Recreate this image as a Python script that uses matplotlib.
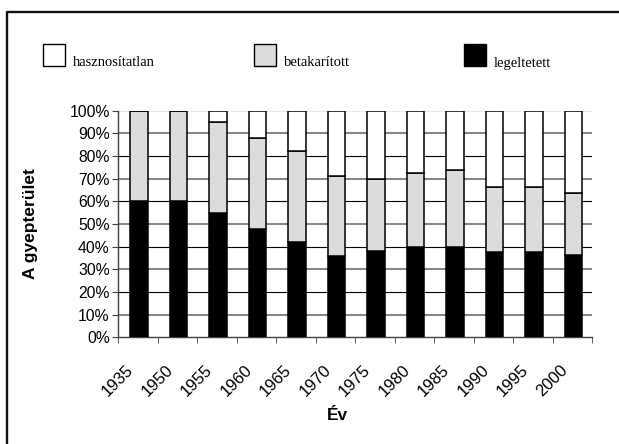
import numpy as np
import matplotlib
matplotlib.use("Agg")
import matplotlib.pyplot as plt
import matplotlib.transforms as mtransforms
from matplotlib.patches import Rectangle
from matplotlib.lines import Line2D
from matplotlib.ticker import FixedLocator

### Data (share of grassland, %)
years = ['1935', '1950', '1955', '1960', '1965', '1970',
         '1975', '1980', '1985', '1990', '1995', '2000']
legeltetett = [60, 60, 55, 48, 42, 36, 38, 40, 40, 37.5, 37.5, 36.5]
betakaritott = [40, 40, 40, 40, 40, 35, 32, 32.5, 34, 29, 29, 27]
hasznositatlan = [0, 0, 5, 12, 18, 29, 30, 27.5, 26, 33.5, 33.5, 36.5]

series = ['hasznosítatlan', 'betakarított', 'legeltetett']
colors = {'hasznosítatlan': 'white', 'betakarított': '#dcdcdc', 'legeltetett': 'black'}

### Figure
W, H = 619, 444
fig = plt.figure(figsize=(W / 100, H / 100), dpi=100)
ax = fig.add_axes([118 / W, 1 - 337.3 / H, (592 - 118) / W, (337.3 - 110.7) / H])

x = np.arange(len(years))
bw = 0.45
bottom = np.zeros(len(years))
for name, vals in [('legeltetett', legeltetett), ('betakarított', betakaritott),
                   ('hasznosítatlan', hasznositatlan)]:
    ax.bar(x + 0.03, vals, bw, bottom=bottom, color=colors[name],
           edgecolor='black', linewidth=1.1, zorder=3)
    bottom += np.array(vals)

# gridlines, alternating grey / black
for i, g in enumerate(range(10, 101, 10)):
    if g == 100:
        c, lw = '#e8e8e8', 0.8
    elif i % 2 == 0:
        c, lw = '#707070', 1.2
    else:
        c, lw = 'black', 0.8
    ax.axhline(g, color=c, lw=lw, zorder=1)

ax.set_xlim(-0.5, len(years) - 0.5)
ax.set_ylim(0, 100)
ax.set_yticks(range(0, 101, 10))
ax.set_yticklabels(['%d%%' % v for v in range(0, 101, 10)],
                   fontsize=11.3, family='Liberation Sans')
ax.set_xticks(x)
ax.set_xticklabels(years, rotation=45, ha='right', va='top', rotation_mode='anchor',
                   fontsize=12, family='Liberation Sans')
ax.xaxis.set_minor_locator(FixedLocator(np.arange(-0.5, len(years))))
ax.tick_params(axis='x', which='major', length=0, pad=18)
ax.tick_params(axis='x', which='minor', length=4, direction='out', color='#404040')
ax.tick_params(axis='y', length=4, direction='out', color='#404040', pad=2)

# nudge the rotated year labels left of their slot centre
shift = mtransforms.ScaledTranslation(-12 / 100, 0, fig.dpi_scale_trans)
for lbl in ax.get_xticklabels():
    lbl.set_transform(lbl.get_transform() + shift)

for s in ['top', 'right']:
    ax.spines[s].set_visible(False)
for s in ['left', 'bottom']:
    ax.spines[s].set_color('#404040')
    ax.spines[s].set_linewidth(1.0)

fig.text(30 / W, 1 - 224 / H, 'A gyepterület', rotation=90, ha='center', va='center',
         fontsize=12.5, fontweight='bold', family='Liberation Sans')
fig.text(337 / W, 1 - 415 / H, 'Év', ha='center', va='center',
         fontsize=12.5, fontweight='bold', family='Liberation Sans')

# legend across the top
leg_x = [43, 254, 464]
for name, lx in zip(series, leg_x):
    fig.patches.append(Rectangle((lx / W, 1 - 66.5 / H), 22 / W, 22 / H,
                                 transform=fig.transFigure, facecolor=colors[name],
                                 edgecolor='black', linewidth=1.0))
    fig.text((lx + 30) / W, 1 - 66.5 / H, name, ha='left', va='baseline',
             fontsize=10.5, family='Liberation Serif')

# outer frame: only the left and top edges fall inside the image
fx, fy = 7 / W, 1 - 12 / H
fig.lines.append(Line2D([fx, fx, 1.0], [0.0, fy, fy], transform=fig.transFigure,
                        color='#111111', linewidth=1.7))

fig.savefig('out.png', dpi=100)
